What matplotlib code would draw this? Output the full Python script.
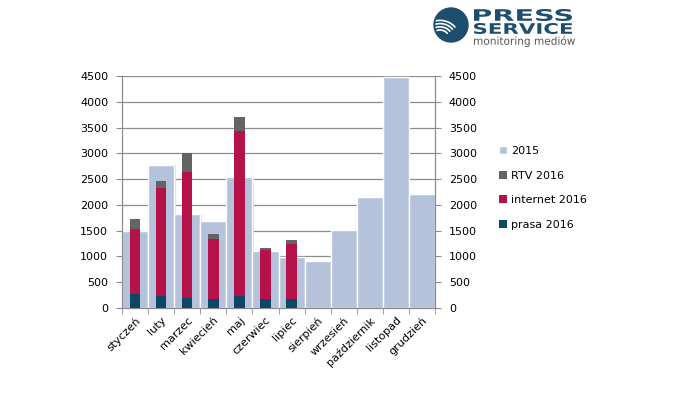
import numpy as np
import matplotlib.pyplot as plt
from matplotlib.patches import Circle, PathPatch
from matplotlib.textpath import TextPath
from matplotlib.font_manager import FontProperties
from matplotlib.transforms import Affine2D

# ── data
months = ['styczeń', 'luty', 'marzec', 'kwiecień', 'maj', 'czerwiec', 'lipiec',
          'sierpień', 'wrzesień', 'październik', 'listopad', 'grudzień']
y2015 = [1500, 2780, 1825, 1690, 2540, 1110, 980, 920, 1515, 2160, 4480, 2210]
prasa_2016 = [277, 239, 200, 181, 239, 168, 181]
internet_2016 = [1257, 2095, 2437, 1160, 3191, 960, 1070]
rtv_2016 = [187, 129, 361, 103, 271, 45, 71]

C2015 = '#b4c2dc'
CRTV = '#646464'
CINT = '#b5124a'
CPRASA = '#0d4766'
GRID = '#8c8c8c'
W, H = 679, 395

fig = plt.figure(figsize=(W / 100, H / 100), dpi=100)
ax = fig.add_axes([122 / W, 1 - 308 / H, 313 / W, 232 / H])

x = np.arange(len(months))
x16 = np.arange(len(prasa_2016))

# grid behind everything
for v in range(500, 4501, 500):
    ax.axhline(v, color=GRID, lw=0.9, zorder=0)

# 2015 – wide bars with a faint shadow
ax.bar(x + 0.06, y2015, width=1.0, color='#d9dde4', zorder=1)
ax.bar(x, y2015, width=1.0, color=C2015, edgecolor='white', lw=1.0,
       zorder=2, label='2015')

# 2016 stacked
ax.bar(x16, prasa_2016, width=0.4, color=CPRASA, zorder=3, label='prasa 2016')
ax.bar(x16, internet_2016, width=0.4, bottom=prasa_2016, color=CINT,
       zorder=3, label='internet 2016')
bottom_rtv = np.array(prasa_2016) + np.array(internet_2016)
ax.bar(x16, rtv_2016, width=0.4, bottom=bottom_rtv, color=CRTV,
       zorder=3, label='RTV 2016')

ax.set_xlim(-0.5, len(months) - 0.5)
ax.set_ylim(0, 4500)
ax.set_yticks(range(0, 4501, 500))

ax.spines['top'].set_visible(False)
for s in ['left', 'right', 'bottom']:
    ax.spines[s].set_color(GRID)
    ax.spines[s].set_linewidth(0.9)

ax.tick_params(axis='y', length=4, color=GRID, labelsize=8, left=True,
               right=True, labelright=True, direction='out', pad=6)
ax.set_xticks(x)
ax.set_xticklabels(months, rotation=45, ha='right', rotation_mode='anchor',
                   fontsize=8)
ax.tick_params(axis='x', length=0, pad=5)
ax.set_xticks(np.arange(-0.5, len(months), 1.0), minor=True)
ax.tick_params(axis='x', which='minor', length=4, color=GRID)

# legend
h, l = ax.get_legend_handles_labels()
order = [l.index(k) for k in ['2015', 'RTV 2016', 'internet 2016', 'prasa 2016']]
fig.legend([h[i] for i in order], [l[i] for i in order], loc='upper left',
           bbox_to_anchor=(0.72, 0.655), frameon=False, fontsize=8,
           handlelength=0.7, handleheight=0.7, handletextpad=0.4,
           labelspacing=1.3)

# ── logo (pixel-unit axes so the circle stays round)
logo_c = '#1d4e6e'
lax = fig.add_axes([430 / W, 1 - 50 / H, 150 / W, 50 / H])
lax.set_xlim(430, 580)
lax.set_ylim(50, 0)
lax.axis('off')
lax.add_patch(Circle((451, 25), 17, color=logo_c))
t = np.linspace(0, 1, 30)
for k in range(4):
    r = 9 + k * 3.2
    ang = np.radians(150 - 110 * t)
    cx, cy = 440, 39
    px = cx + r * np.cos(ang) * 1.05
    py = cy - r * np.sin(ang)
    keep = (px - 451) ** 2 + (py - 25) ** 2 < 15.5 ** 2
    lax.plot(px[keep], py[keep], color='white', lw=1.2, solid_capstyle='round')


def fit_text(s, x0, x1, y0, y1, weight='normal', color=logo_c):
    tp = TextPath((0, 0), s, size=10, prop=FontProperties(family='DejaVu Sans',
                                                           weight=weight))
    bb = tp.get_extents()
    sx = (x1 - x0) / bb.width
    sy = (y1 - y0) / bb.height
    tr = Affine2D().translate(-bb.x0, -bb.y0).scale(sx, -sy).translate(x0, y1)
    lax.add_patch(PathPatch(tr.transform_path(tp), color=color, lw=0))


fit_text('PRESS', 474, 572, 9, 21, weight='bold')
fit_text('SERVICE', 474, 572, 23, 34, weight='bold')
fit_text('monitoring mediów', 474, 575, 36, 47, color='#555555')

fig.savefig('out.png', dpi=100)
